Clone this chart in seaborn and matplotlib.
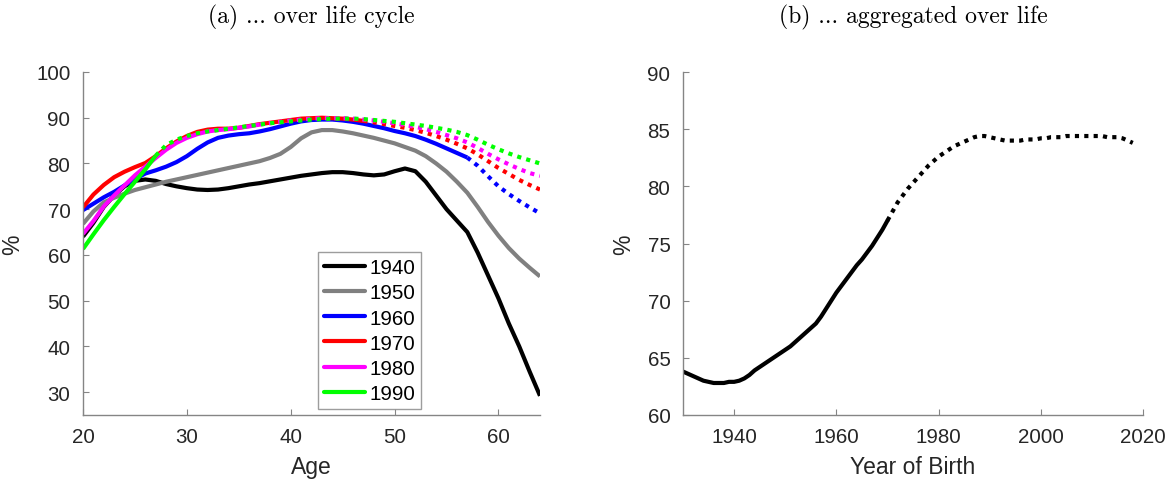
import numpy as np
import pandas as pd
import matplotlib
matplotlib.use("Agg")
import matplotlib.pyplot as plt
import seaborn as sns

# ---------------- data ----------------
ages = list(range(20, 65))

v1940 = [64.0, 67.0, 70.5, 73.0, 75.0, 76.2, 76.5, 76.2, 75.5, 75.0, 74.6, 74.3, 74.2, 74.3, 74.6,
         75.0, 75.4, 75.7, 76.1, 76.5, 76.9, 77.3, 77.6, 77.9, 78.1, 78.1, 77.9, 77.6, 77.4, 77.6,
         78.3, 78.9, 78.3, 76.0, 73.0, 70.0, 67.5, 65.0, 60.5, 55.5, 50.5, 45.0, 40.0, 34.5, 29.2]
v1950 = [66.8, 69.5, 71.5, 72.5, 73.4, 74.2, 74.8, 75.4, 76.0, 76.5, 77.0, 77.5, 78.0, 78.5, 79.0,
         79.5, 80.0, 80.5, 81.2, 82.1, 83.6, 85.5, 86.8, 87.3, 87.3, 87.0, 86.6, 86.1, 85.6, 85.0,
         84.4, 83.6, 82.8, 81.6, 80.0, 78.2, 76.0, 73.6, 70.5, 67.2, 64.2, 61.5, 59.2, 57.2, 55.3]
v1960 = [69.8, 71.2, 72.6, 73.8, 75.2, 76.6, 77.8, 78.5, 79.3, 80.3, 81.6, 83.2, 84.6, 85.6, 86.1,
         86.4, 86.6, 87.0, 87.5, 88.1, 88.7, 89.2, 89.5, 89.6, 89.6, 89.4, 89.1, 88.7, 88.2, 87.7,
         87.1, 86.6, 86.0, 85.2, 84.3, 83.3, 82.3, 81.3, 79.5, 77.2, 75.0, 73.3, 71.8, 70.4, 69.1]
v1970 = [70.4, 73.2, 75.3, 77.0, 78.2, 79.2, 80.1, 81.6, 83.3, 84.8, 86.0, 86.9, 87.4, 87.6, 87.6,
         87.8, 88.2, 88.6, 88.9, 89.2, 89.5, 89.8, 89.9, 90.0, 89.9, 89.8, 89.6, 89.3, 89.0, 88.6,
         88.2, 87.8, 87.3, 86.7, 86.0, 85.2, 84.3, 83.3, 82.0, 80.5, 79.0, 77.7, 76.4, 75.3, 74.3]
v1980 = [64.6, 67.4, 70.6, 73.0, 75.2, 77.4, 79.3, 81.2, 83.0, 84.5, 85.6, 86.4, 87.0, 87.3, 87.5,
         87.8, 88.1, 88.5, 88.8, 89.1, 89.4, 89.6, 89.8, 89.9, 89.9, 89.9, 89.8, 89.6, 89.4, 89.1,
         88.8, 88.4, 88.0, 87.5, 86.9, 86.2, 85.5, 84.6, 83.4, 82.1, 80.9, 79.8, 78.8, 77.9, 77.3]
v1990 = [61.3, 64.5, 67.6, 70.5, 73.3, 76.0, 78.7, 81.7, 84.0, 85.2, 86.0, 86.6, 87.0, 87.3, 87.6,
         87.9, 88.2, 88.5, 88.8, 89.0, 89.2, 89.4, 89.6, 89.7, 89.8, 89.8, 89.8, 89.7, 89.5, 89.3,
         89.1, 88.8, 88.5, 88.2, 87.8, 87.4, 86.9, 86.2, 85.2, 84.1, 83.1, 82.2, 81.4, 80.7, 80.0]

cohorts = ["1940", "1950", "1960", "1970", "1980", "1990"]
# last observed age (solid up to here, dotted afterwards); None = fully observed
last_obs = [None, None, 57, 47, 37, 27]

birth_years = list(range(1930, 2019))
aggregate = [63.8, 63.6, 63.4, 63.2, 63.0, 62.9, 62.8, 62.8, 62.8, 62.9,
             62.9, 63.0, 63.2, 63.5, 63.9, 64.2, 64.5, 64.8, 65.1, 65.4,
             65.7, 66.0, 66.4, 66.8, 67.2, 67.6, 68.0, 68.6, 69.3, 70.0,
             70.7, 71.3, 71.9, 72.5, 73.1, 73.6, 74.2, 74.8, 75.5, 76.2,
             77.0, 77.8, 78.6, 79.2, 79.8, 80.3, 80.8, 81.3, 81.8, 82.2,
             82.6, 82.9, 83.2, 83.5, 83.7, 83.9, 84.1, 84.3, 84.4, 84.4,
             84.3, 84.2, 84.1, 84.0, 84.0, 84.0, 84.0, 84.1, 84.1, 84.1,
             84.2, 84.2, 84.3, 84.3, 84.3, 84.4, 84.4, 84.4, 84.4, 84.4,
             84.4, 84.4, 84.4, 84.3, 84.3, 84.3, 84.2, 84.0, 83.8]
agg_last_obs = 1970

titles = ["(a) ... over life cycle", "(b) ... aggregated over life"]

# ---------------- style ----------------
sns.set_theme(style="white")
plt.rcParams["font.family"] = ["Liberation Sans", "DejaVu Sans"]
TXT = "#262626"
SPINE = "#858585"
colors = ["#000000", "#808080", "#0000ff", "#ff0000", "#ff00ff", "#00ff00"]
LW = 3.0
DOT = (1.0, 1.25)

fig = plt.figure(figsize=(11.75, 4.89), dpi=100)
ax1 = fig.add_axes([83 / 1175, 73 / 489, 457 / 1175, 343 / 489])
ax2 = fig.add_axes([683 / 1175, 73 / 489, 460 / 1175, 343 / 489])

all_series = [v1940, v1950, v1960, v1970, v1980, v1990]
handles = []
for name, vals, cut, col in zip(cohorts, all_series, last_obs, colors):
    df = pd.DataFrame({"age": ages, "val": vals})
    if cut is None:
        solid = df
        dotted = None
    else:
        solid = df[df.age <= cut]
        dotted = df[df.age >= cut]
    sns.lineplot(data=solid, x="age", y="val", ax=ax1, color=col, lw=LW,
                 solid_capstyle="butt", label=name, legend=False)
    if dotted is not None:
        sns.lineplot(data=dotted, x="age", y="val", ax=ax1, color=col, lw=LW,
                     dashes=False, legend=False)
        ax1.lines[-1].set_dashes(DOT)
        ax1.lines[-1].set_dash_capstyle("butt")
    handles.append(plt.Line2D([], [], color=col, lw=LW))

dfa = pd.DataFrame({"year": birth_years, "val": aggregate})
sns.lineplot(data=dfa[dfa.year <= agg_last_obs], x="year", y="val", ax=ax2,
             color="black", lw=LW, legend=False)
sns.lineplot(data=dfa[dfa.year >= agg_last_obs], x="year", y="val", ax=ax2,
             color="black", lw=LW, legend=False)
ax2.lines[-1].set_dashes(DOT)

ax1.set_xlim(20, 64)
ax1.set_ylim(25, 100)
ax1.set_xticks([20, 30, 40, 50, 60])
ax1.set_yticks([30, 40, 50, 60, 70, 80, 90, 100])
ax1.set_xlabel("Age", fontsize=16.5, color=TXT, labelpad=6)

ax2.set_xlim(1930, 2020)
ax2.set_ylim(60, 90)
ax2.set_xticks([1940, 1960, 1980, 2000, 2020])
ax2.set_yticks([60, 65, 70, 75, 80, 85, 90])
ax2.set_xlabel("Year of Birth", fontsize=16.5, color=TXT, labelpad=6)

for ax, t in zip([ax1, ax2], titles):
    ax.set_ylabel("%", fontsize=16.5, color=TXT, labelpad=9)
    for s in ["top", "right"]:
        ax.spines[s].set_visible(False)
    for s in ["left", "bottom"]:
        ax.spines[s].set_color(SPINE)
        ax.spines[s].set_linewidth(1.0)
    ax.tick_params(direction="in", length=4, width=0.8, color=SPINE,
                   labelsize=14.8, labelcolor=TXT, pad=9,
                   left=True, bottom=True)
    ax.set_title(t, fontsize=17, family="cmr10", color="black", pad=36)

leg = ax1.legend(handles, cohorts, loc="lower left", bbox_to_anchor=(0.514, 0.017),
                 fontsize=14.8, frameon=True, fancybox=False, handlelength=2.0,
                 handletextpad=0.2, borderpad=0.3, labelspacing=0.3,
                 borderaxespad=0)
leg.get_frame().set_edgecolor(SPINE)
leg.get_frame().set_linewidth(1.0)
for t in leg.get_texts():
    t.set_color("black")

fig.savefig("out.png", dpi=100)
